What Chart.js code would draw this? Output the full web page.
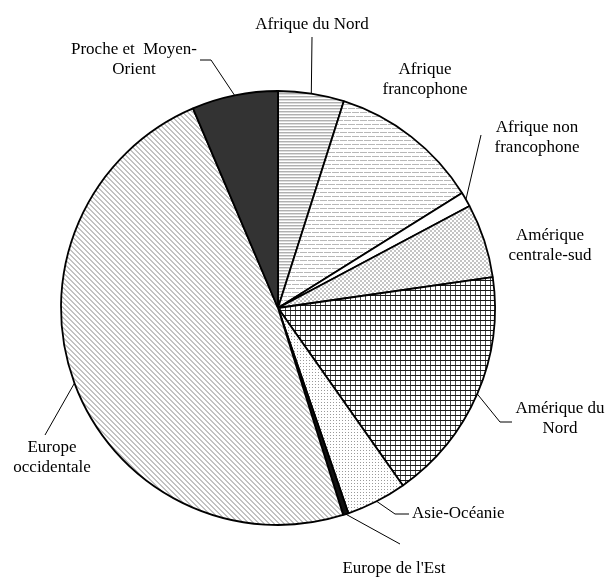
<!DOCTYPE html>
<html><head><meta charset="utf-8">
<script src="https://cdn.jsdelivr.net/npm/chart.js@4/dist/chart.umd.min.js"></script>
<style>html,body{margin:0;padding:0;background:#fff}canvas{display:block}</style>
</head><body>
<canvas id="c" width="607" height="578"></canvas>
<script>
// ---- data ----
const categories = ["Afrique du Nord","Afrique francophone","Afrique non francophone","Amérique centrale-sud","Amérique du Nord","Asie-Océanie","Europe de l'Est","Europe occidentale","Proche et Moyen-Orient"];
const shares = [4.9, 11.2, 1.1, 5.5, 17.5, 4.5, 0.4, 48.4, 6.4];
const labelLines = [["Afrique du Nord"],["Afrique","francophone"],["Afrique non","francophone"],["Amérique","centrale-sud"],["Amérique du","Nord"],["Asie-Océanie"],["Europe de l'Est"],["Europe","occidentale"],["Proche et  Moyen-","Orient"]];

// ---- label layout (text anchor + leader elbows) ----
const labelLayout = [
  {x:312, y:29,  align:'center', leader:[[312,37]]},
  {x:425, y:74,  align:'center', leader:null},
  {x:537, y:132, align:'center', leader:[[481,135]]},
  {x:550, y:240, align:'center', leader:null},
  {x:560, y:413, align:'center', leader:[[500,422],[512,422]]},
  {x:412, y:518, align:'left',   leader:[[395,514],[409,514]]},
  {x:394, y:573, align:'center', leader:[[400,544]]},
  {x:52,  y:452, align:'center', leader:[[45,435]]},
  {x:134, y:54,  align:'center', leader:[[211,60],[200,60]]}
];

// ---- patterns ----
function makePattern(w, h, fn) {
  const c = document.createElement('canvas');
  c.width = w; c.height = h;
  const g = c.getContext('2d');
  g.fillStyle = '#fff'; g.fillRect(0,0,w,h);
  for (let y=0;y<h;y++) for (let x=0;x<w;x++) {
    const col = fn(x,y);
    if (col) { g.fillStyle = col; g.fillRect(x,y,1,1); }
  }
  return g.createPattern(c, 'repeat');
}
const ctx0 = document.getElementById('c').getContext('2d');
const fills = [
  makePattern(1,3,(x,y)=> y===0 ? '#b0b0b0' : (y===1 ? '#dcdcdc' : null)),            // horizontal lines
  makePattern(8,8,(x,y)=> (y===0 && x!==7) || (y===4 && x!==3) ? '#b8b8b8' : null),     // dashed lines
  '#ffffff',
  makePattern(4,4,(x,y)=> ((Math.floor(x/2)+Math.floor(y/2))%2===0) ? '#c4c4c4' : null),// checker
  makePattern(5,5,(x,y)=> y===0 ? '#1a1a1a' : (x===0 ? '#4a4a4a' : null)),             // grid
  makePattern(3,3,(x,y)=> (x===0 && y===0) ? '#9a9a9a' : null),                         // dots
  '#111111',
  makePattern(5,5,(x,y)=> (((x-y)%5+5)%5) < 2 ? '#c2c2c2' : null),                     // diagonal
  '#333333'
];

const labelPlugin = {
  id: 'labels',
  afterDraw(chart) {
    const ctx = chart.ctx;
    const meta = chart.getDatasetMeta(0);
    ctx.save();
    ctx.strokeStyle = '#000';
    ctx.lineWidth = 1;
    ctx.fillStyle = '#000';
    ctx.font = '17px "Liberation Serif", "Times New Roman", serif';
    ctx.textBaseline = 'alphabetic';
    meta.data.forEach((arc, i) => {
      const L = labelLayout[i];
      if (L.leader) {
        const mid = (arc.startAngle + arc.endAngle) / 2;
        const sx = arc.x + arc.outerRadius * Math.cos(mid);
        const sy = arc.y + arc.outerRadius * Math.sin(mid);
        ctx.beginPath();
        ctx.moveTo(sx, sy);
        L.leader.forEach(p => ctx.lineTo(p[0], p[1]));
        ctx.stroke();
      }
      ctx.textAlign = L.align;
      labelLines[i].forEach((t, k) => ctx.fillText(t, L.x, L.y + k * 20));
    });
    ctx.restore();
  }
};

new Chart(ctx0, {
  type: 'pie',
  data: {
    labels: categories,
    datasets: [{
      data: shares,
      backgroundColor: fills,
      borderColor: '#000',
      borderWidth: 1.8
    }]
  },
  options: {
    responsive: false,
    animation: false,
    radius: 217,
    layout: { padding: { left: 0, right: 51, top: 38, bottom: 0 } },
    plugins: { legend: { display: false }, tooltip: { enabled: false } }
  },
  plugins: [labelPlugin]
});
</script>
</body></html>
